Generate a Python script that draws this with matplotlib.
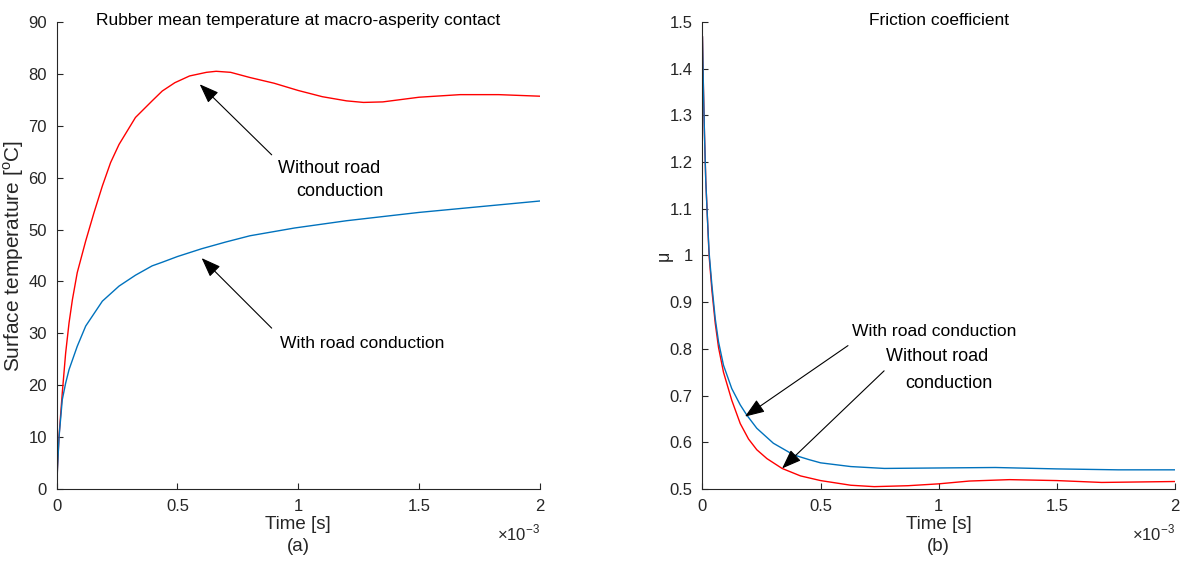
import matplotlib
matplotlib.use("Agg")
import matplotlib.pyplot as plt
from matplotlib.ticker import FuncFormatter

# time in units of 1e-3 s
t_temp_wo = [0, 0.003, 0.0096, 0.023, 0.037, 0.051, 0.065, 0.085, 0.12, 0.154,
             0.189, 0.223, 0.258, 0.326, 0.395, 0.437, 0.489, 0.55, 0.62, 0.66,
             0.72, 0.8, 0.9, 1.0, 1.1, 1.2, 1.27, 1.35, 1.5, 1.67, 1.83, 2.0]
temp_wo = [0, 4, 10.2, 18.5, 26.2, 32.0, 36.5, 41.7, 47.8, 53.2,
           58.4, 62.9, 66.4, 71.6, 74.8, 76.7, 78.3, 79.6, 80.3, 80.5,
           80.3, 79.3, 78.2, 76.8, 75.6, 74.8, 74.5, 74.6, 75.5, 76.0, 76.0, 75.7]

t_temp_w = [0, 0.003, 0.0096, 0.023, 0.037, 0.051, 0.085, 0.12, 0.189, 0.258,
            0.326, 0.395, 0.437, 0.5, 0.6, 0.7, 0.8, 0.985, 1.2, 1.5, 1.75, 2.0]
temp_w = [0, 3.7, 10, 17.2, 20.4, 23, 27.5, 31.4, 36.2, 39.1,
          41.2, 43.0, 43.7, 44.8, 46.3, 47.6, 48.8, 50.3, 51.7, 53.3, 54.4, 55.5]

t_mu_w = [0, 0.004, 0.0085, 0.014, 0.021, 0.028, 0.040, 0.054, 0.068, 0.089,
          0.124, 0.16, 0.188, 0.23, 0.30, 0.386, 0.45, 0.5, 0.628, 0.77,
          1.0, 1.24, 1.5, 1.76, 2.0]
mu_w = [1.468, 1.36, 1.26, 1.16, 1.08, 1.007, 0.936, 0.865, 0.815, 0.765,
        0.715, 0.68, 0.658, 0.63, 0.598, 0.573, 0.563, 0.556, 0.548, 0.544,
        0.545, 0.546, 0.543, 0.541, 0.541]

t_mu_wo = [0, 0.004, 0.0085, 0.014, 0.021, 0.028, 0.04, 0.054, 0.068, 0.089,
           0.124, 0.16, 0.195, 0.23, 0.273, 0.337, 0.415, 0.5, 0.628, 0.727,
           0.87, 1.0, 1.13, 1.3, 1.5, 1.69, 2.0]
mu_wo = [1.468, 1.36, 1.26, 1.16, 1.08, 1.0, 0.925, 0.855, 0.803, 0.75,
         0.69, 0.64, 0.607, 0.584, 0.565, 0.544, 0.528, 0.518, 0.508, 0.505,
         0.507, 0.511, 0.517, 0.520, 0.518, 0.514, 0.516]

RED = "#FF0000"
BLUE = "#0072BD"
AXC = "#262626"

plt.rcParams["font.family"] = ["Liberation Sans", "DejaVu Sans"]
plt.rcParams["mathtext.fontset"] = "custom"
plt.rcParams["mathtext.rm"] = "Liberation Sans"

fig = plt.figure(figsize=(11.84, 5.67), dpi=100)
ax1 = fig.add_axes([0.0479, 0.1376, 0.408, 0.8236])
ax2 = fig.add_axes([0.5933, 0.1376, 0.399, 0.8236])


def style(ax, title):
    for s in ["top", "right"]:
        ax.spines[s].set_visible(False)
    for s in ["left", "bottom"]:
        ax.spines[s].set_color(AXC)
        ax.spines[s].set_linewidth(0.8)
    ax.tick_params(direction="in", length=4, width=0.8, colors=AXC,
                   labelsize=12, pad=7)
    ax.set_xlim(0, 2)
    ax.set_xticks([0, 0.5, 1, 1.5, 2])
    ax.xaxis.set_major_formatter(FuncFormatter(lambda v, p: f"{v:g}"))
    ax.text(1.0, -0.072, r"$\times10^{-3}$", transform=ax.transAxes,
            ha="right", va="top", fontsize=12, color=AXC)
    ax.text(0.5, 0.994, title, transform=ax.transAxes, ha="center",
            va="baseline", fontsize=12.5, color="black")


arrow = dict(arrowstyle="-|>,head_length=0.8,head_width=0.3", color="black",
             lw=0.8, mutation_scale=15, shrinkA=0, shrinkB=0)

# (a) temperature
ax1.plot(t_temp_wo, temp_wo, color=RED, lw=1)
ax1.plot(t_temp_w, temp_w, color=BLUE, lw=1)
style(ax1, "Rubber mean temperature at macro-asperity contact")
ax1.set_ylim(0, 90)
ax1.set_yticks(range(0, 91, 10))
ax1.set_ylabel(r"Surface temperature [$^{\mathrm{o}}$C]", fontsize=15,
               color=AXC, labelpad=2)
ax1.set_xlabel("Time [s]\n(a)", fontsize=13.5, color=AXC, labelpad=2,
               linespacing=1.35)
ax1.annotate("", xy=(0.592, 78.0), xytext=(0.89, 64.4), arrowprops=arrow)
ax1.annotate("", xy=(0.60, 44.5), xytext=(0.89, 31.0), arrowprops=arrow)
ax1.text(0.915, 61.8, "Without road", fontsize=13, va="center", ha="left")
ax1.text(0.99, 57.4, "conduction", fontsize=13, va="center", ha="left")
ax1.text(0.925, 28.1, "With road conduction", fontsize=12.6, va="center", ha="left")

# (b) friction coefficient
ax2.plot(t_mu_wo, mu_wo, color=RED, lw=1)
ax2.plot(t_mu_w, mu_w, color=BLUE, lw=1)
style(ax2, "Friction coefficient")
ax2.set_ylim(0.5, 1.5)
ax2.set_yticks([0.5 + 0.1 * i for i in range(11)])
ax2.yaxis.set_major_formatter(FuncFormatter(lambda v, p: f"{round(v, 1):g}"))
ax2.set_ylabel("μ", fontsize=13, color=AXC, labelpad=-2)
ax2.set_xlabel("Time [s]\n(b)", fontsize=13.5, color=AXC, labelpad=2,
               linespacing=1.35)
ax2.annotate("", xy=(0.18, 0.655), xytext=(0.616, 0.807), arrowprops=arrow)
ax2.annotate("", xy=(0.337, 0.544), xytext=(0.769, 0.753), arrowprops=arrow)
ax2.text(0.631, 0.837, "With road conduction", fontsize=12.6, va="center", ha="left")
ax2.text(0.777, 0.783, "Without road", fontsize=13, va="center", ha="left")
ax2.text(0.86, 0.725, "conduction", fontsize=13, va="center", ha="left")

fig.savefig("out.png", dpi=100)
